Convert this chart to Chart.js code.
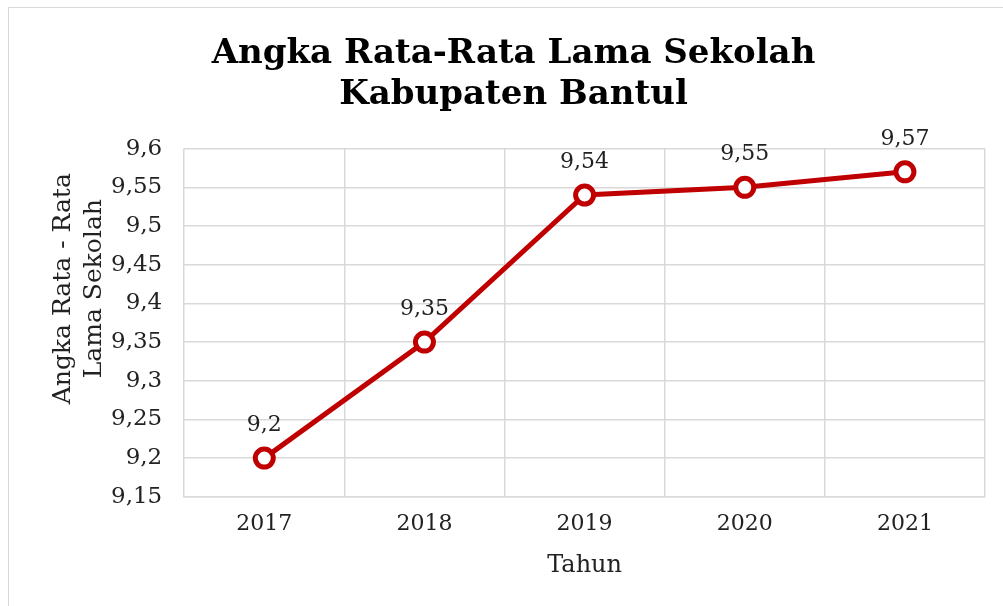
<!DOCTYPE html>
<html>
<head>
<meta charset="utf-8">
<script src="https://cdn.jsdelivr.net/npm/chart.js@4"></script>
<style>
  html, body { margin: 0; padding: 0; background: #fff; }
  #wrap { position: absolute; left: 8px; top: 7px; width: 1010px; height: 620px; border: 1px solid #d9d9d9; box-sizing: border-box; }
  #box { position: absolute; left: 0; top: 0; width: 1003px; height: 606px; }
</style>
</head>
<body>
<div id="wrap"></div>
<div id="box"><canvas id="ralsChart"></canvas></div>
<script>
// Rata-rata lama sekolah, Kabupaten Bantul
const years = ['2017', '2018', '2019', '2020', '2021'];
const rls = [9.2, 9.35, 9.54, 9.55, 9.57];
const yTicks = [9.15, 9.2, 9.25, 9.3, 9.35, 9.4, 9.45, 9.5, 9.55, 9.6];
const yTitle = ['Angka Rata - Rata', 'Lama Sekolah'];

const fmt = v => Number(v.toFixed(2)).toString().replace('.', ',');

// simple data label plugin (no datalabels lib available)
const pointLabels = {
  id: 'pointLabels',
  afterDatasetsDraw(chart) {
    const ctx = chart.ctx;
    const meta = chart.getDatasetMeta(0);
    ctx.save();
    ctx.font = '22px "DejaVu Serif"';
    ctx.fillStyle = '#222';
    ctx.textAlign = 'center';
    ctx.textBaseline = 'bottom';
    meta.data.forEach((pt, i) => {
      ctx.fillText(fmt(rls[i]), pt.x, pt.y - 22);
    });
    ctx.restore();
  }
};

// y title sits a bit above the axis middle in the original, so draw it by hand
const yTitlePlugin = {
  id: 'yTitlePlugin',
  afterDraw(chart) {
    const s = chart.scales.y;
    const ctx = chart.ctx;
    const cy = (s.top + s.bottom) / 2 - 34;
    ctx.save();
    ctx.font = '25px "DejaVu Serif"';
    ctx.fillStyle = '#222';
    ctx.textAlign = 'center';
    ctx.textBaseline = 'middle';
    yTitle.forEach((line, i) => {
      ctx.save();
      ctx.translate(s.left + 21 + i * 31, cy);
      ctx.rotate(-Math.PI / 2);
      ctx.fillText(line, 0, 0);
      ctx.restore();
    });
    ctx.restore();
  }
};

new Chart(document.getElementById('ralsChart'), {
  type: 'line',
  data: {
    labels: years,
    datasets: [{
      data: rls,
      borderColor: '#C00000',
      borderWidth: 5,
      pointRadius: 9,
      pointHoverRadius: 9,
      pointBackgroundColor: '#fff',
      pointBorderColor: '#C00000',
      pointBorderWidth: 5,
      tension: 0
    }]
  },
  options: {
    responsive: true,
    maintainAspectRatio: false,
    animation: false,
    layout: { padding: { left: 42, right: 18, top: 34, bottom: 22 } },
    plugins: {
      legend: { display: false },
      tooltip: { enabled: false },
      title: {
        display: true,
        text: ['Angka Rata-Rata Lama Sekolah', 'Kabupaten Bantul'],
        color: '#000',
        font: { family: '"DejaVu Serif"', size: 34, weight: 'bold' },
        padding: { top: 0, bottom: 33 },
        lineHeight: 1.27
      }
    },
    scales: {
      x: {
        offset: true,
        grid: { offset: true, color: '#d9d9d9', lineWidth: 1.5, drawTicks: false },
        border: { color: '#d9d9d9', width: 1.5 },
        ticks: { color: '#222', padding: 14, font: { family: '"DejaVu Serif"', size: 22 } },
        title: { display: true, text: 'Tahun', color: '#222', padding: { top: 0 }, font: { family: '"DejaVu Serif"', size: 24 } }
      },
      y: {
        min: 9.15,
        max: 9.6,
        afterBuildTicks: axis => { axis.ticks = yTicks.map(v => ({ value: v })); },
        grid: { color: '#d9d9d9', lineWidth: 1.5, drawTicks: false },
        border: { display: false },
        ticks: { color: '#222', padding: 22, font: { family: '"DejaVu Serif"', size: 23 }, callback: v => fmt(v) },
        title: {
          // only reserves the space, text drawn by yTitlePlugin
          display: true,
          text: yTitle,
          color: 'rgba(0,0,0,0)',
          padding: { top: 0, bottom: -13 },
          font: { family: '"DejaVu Serif"', size: 25 },
          lineHeight: 1.2
        }
      }
    }
  },
  plugins: [pointLabels, yTitlePlugin]
});
</script>
</body>
</html>
